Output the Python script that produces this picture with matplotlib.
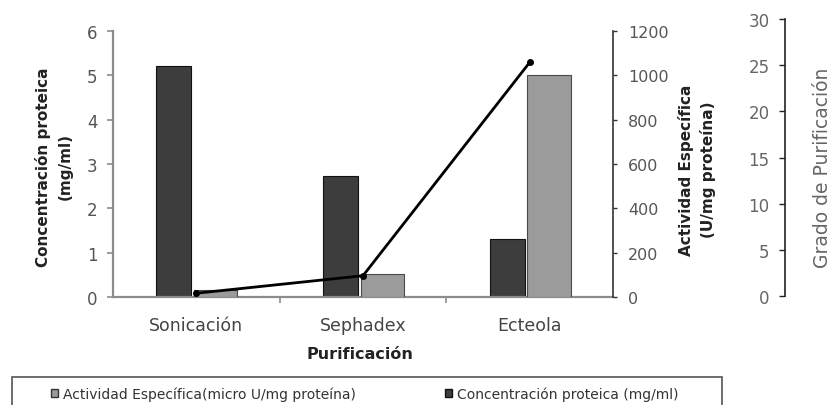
import matplotlib
matplotlib.use("Agg")
import matplotlib.pyplot as plt
from matplotlib.patches import Patch, Rectangle
import numpy as np

# Data
categories = ["Sonicación", "Sephadex", "Ecteola"]
concentracion = [5.2, 2.72, 1.31]      # mg/ml
actividad = [30, 105, 1000]            # U/mg proteína
grado = [0.3, 2.2, 25.3]               # grado de purificación

conc_ticks = [0, 1, 2, 3, 4, 5, 6]
act_ticks = [0, 200, 400, 600, 800, 1000, 1200]
grado_ticks = [0, 5, 10, 15, 20, 25, 30]

W, H = 835, 406
fig = plt.figure(figsize=(W / 100, H / 100), dpi=100)


def fx(px):
    return px / W


def fy(py):
    return 1 - py / H


dark = "#3d3d3d"
light = "#9b9b9b"
axis_gray = "#8c8c8c"
tick_txt = "#555555"

# main axes (left: concentration)
ax = fig.add_axes([fx(113), fy(298), fx(613) - fx(113), fy(32) - fy(298)])
x = np.arange(len(categories))
ax.bar(x - 0.135, concentracion, width=0.21, color=dark,
       edgecolor="#111111", linewidth=0.8, zorder=2)
ax.set_xlim(-0.5, 2.5)
ax.set_ylim(0, 6)
ax.set_yticks(conc_ticks)
ax.set_xticks(x, categories)
ax.set_xticks([0.5, 1.5], minor=True)
for side in ("top", "right"):
    ax.spines[side].set_visible(False)
for side in ("left", "bottom"):
    ax.spines[side].set_color(axis_gray)
    ax.spines[side].set_linewidth(1.6)
ax.tick_params(axis="y", direction="out", length=4, width=1.2, color=axis_gray,
               labelsize=12, labelcolor=tick_txt, pad=7)
ax.tick_params(axis="x", which="major", length=0, pad=14, labelsize=12.5,
               labelcolor="#444444")
ax.tick_params(axis="x", which="minor", direction="out", length=4, width=1.2,
               color=axis_gray)

# right axes: specific activity
ax2 = ax.twinx()
ax2.bar(x + 0.115, actividad, width=0.26, color=light,
        edgecolor="#4a4a4a", linewidth=0.8, zorder=2)
ax2.set_ylim(0, 1200)
ax2.set_yticks(act_ticks)
for side in ("top", "left", "bottom"):
    ax2.spines[side].set_visible(False)
ax2.spines["right"].set_color("#333333")
ax2.spines["right"].set_linewidth(1.2)
ax2.tick_params(axis="y", direction="out", length=3, width=1.0, color="#333333",
                labelsize=11.5, labelcolor=tick_txt, pad=8)

# purification degree axis, drawn as a separate spine on the far right
g_bottom_px, g_top_px = 297, 20
gax = fig.add_axes([fx(785), fy(g_bottom_px), 0.0001,
                    fy(g_top_px) - fy(g_bottom_px)])
gax.set_ylim(0, 30)
gax.set_yticks(grado_ticks)
gax.set_xticks([])
gax.patch.set_visible(False)
for side in ("top", "right", "bottom"):
    gax.spines[side].set_visible(False)
gax.spines["left"].set_color("#222222")
gax.spines["left"].set_linewidth(1.2)
gax.tick_params(axis="y", direction="out", length=4, width=1.0, color="#222222",
                labelsize=12, labelcolor="#666666", pad=7)

# line axis sharing the purification scale, spanning the main plot area
ax3 = ax.twinx()
ppu = (g_bottom_px - g_top_px) / 30.0
ax3.set_ylim(-(298 - g_bottom_px) / ppu, (g_bottom_px - 32) / ppu)
ax3.plot(x, grado, color="black", linewidth=2.0, marker="o", markersize=4,
         zorder=5)
ax3.axis("off")

# axis titles
fig.text(fx(54), fy(167), "Concentración proteica\n(mg/ml)", rotation=90,
         ha="center", va="center", fontsize=11, fontweight="bold",
         color="#222222", linespacing=1.5, multialignment="center")
fig.text(fx(697), fy(170), "Actividad Específica\n(U/mg proteína)", rotation=90,
         ha="center", va="center", fontsize=11, fontweight="bold",
         color="#222222", linespacing=1.5, multialignment="center")
fig.text(fx(822), fy(168), "Grado de Purificación", rotation=90,
         ha="center", va="center", fontsize=13.5, color="#666666")
fig.text(fx(360), fy(355), "Purificación", ha="center", va="center",
         fontsize=11.5, fontweight="bold", color="#222222")

# legend box along the bottom
fig.patches.append(Rectangle((fx(12), fy(425)), fx(722) - fx(12),
                             fy(378) - fy(425), transform=fig.transFigure,
                             fill=False, edgecolor="#555555", linewidth=1.2))
fig.legend(handles=[Patch(facecolor=light, edgecolor="#333333")],
           labels=["Actividad Específica(micro U/mg proteína)"],
           loc="center left", bbox_to_anchor=(fx(51), fy(395)),
           frameon=False, fontsize=10, handlelength=0.5, handleheight=0.5,
           handletextpad=0.35, borderpad=0, borderaxespad=0,
           labelcolor="#333333")
fig.legend(handles=[Patch(facecolor=dark, edgecolor="#111111")],
           labels=["Concentración proteica (mg/ml)"],
           loc="center left", bbox_to_anchor=(fx(445), fy(395)),
           frameon=False, fontsize=10, handlelength=0.5, handleheight=0.5,
           handletextpad=0.35, borderpad=0, borderaxespad=0,
           labelcolor="#333333")

fig.savefig("out.png", dpi=100)
